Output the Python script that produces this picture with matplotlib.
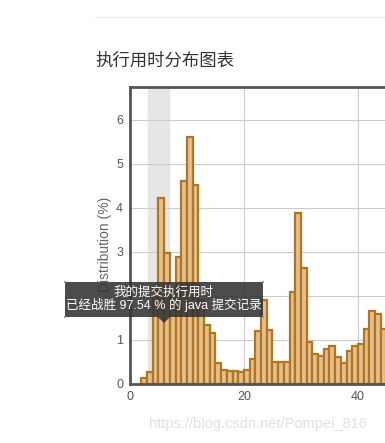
import numpy as np
import matplotlib
matplotlib.use("Agg")
import matplotlib.pyplot as plt
from matplotlib.patches import Rectangle, Polygon

plt.rcParams['font.family'] = ['Liberation Sans', 'Noto Sans CJK SC', 'DejaVu Sans']

# runtime bins (ms) and share of submissions (%)
bins = np.arange(2, 45)
dist = [0.13, 0.27, 2.0, 4.23, 2.98, 2.1, 2.88, 4.62, 5.62, 4.52,
        1.9, 1.34, 1.17, 0.48, 0.32, 0.3, 0.3, 0.28, 0.32, 0.56,
        1.21, 1.91, 1.23, 0.51, 0.51, 0.51, 2.08, 3.88, 2.63, 0.96,
        0.68, 0.64, 0.8, 0.87, 0.62, 0.48, 0.75, 0.87, 0.9, 1.26,
        1.66, 1.6, 1.24]
xticks = [0, 20, 40]
yticks = [0, 1, 2, 3, 4, 5, 6]
highlight = (3.1, 6.9)

W, H = 385, 443
fig = plt.figure(figsize=(W / 100, H / 100), dpi=100)

def px(x, y):
    return x / W, 1 - y / H

ax = fig.add_axes([130 / W, (H - 384) / H, (W - 130) / W, (384 - 87) / H])
ax.set_xlim(0, 44.74)
ax.set_ylim(0, 6.75)

ax.axvspan(*highlight, color='#e6e6e6', zorder=0)
ax.bar(bins, dist, width=1.0, align='edge', facecolor='#e2c092',
       edgecolor='#b5751c', linewidth=1.6, zorder=2)

ax.set_xticks(xticks)
ax.set_yticks(yticks)
ax.grid(True, color='#cccccc', linewidth=0.8, zorder=1)
ax.set_axisbelow(True)
ax.tick_params(length=0, colors='#555555', labelsize=9, pad=5)
for s in ['left', 'top', 'bottom']:
    ax.spines[s].set_color('#555555')
    ax.spines[s].set_linewidth(2)
ax.spines['right'].set_visible(False)
ax.set_ylabel('Distribution (%)', color='#666666', fontsize=10)
ax.yaxis.set_label_coords(-0.072, 0.47)

# title and top rule
fig.text(*px(95, 61), '执行用时分布图表', fontsize=12.5, color='#333333',
         va='center', ha='left', family=['Noto Sans CJK SC'])
fig.add_artist(plt.Line2D([95 / W, 1], [1 - 17 / H] * 2, color='#eeeeee',
                          linewidth=1))

# tooltip
x0, y0, x1, y1 = 65, 282, 263, 317
fig.add_artist(Rectangle(px(x0, y1), (x1 - x0) / W, (y1 - y0) / H,
                         transform=fig.transFigure, facecolor='#333333',
                         alpha=0.88, edgecolor='none', zorder=10))
fig.add_artist(Polygon([px(158, y1), px(170, y1), px(164, 323)],
                       closed=True, transform=fig.transFigure,
                       facecolor='#333333', alpha=0.88, edgecolor='none',
                       zorder=10))
for cx, cy in [(x0, y0), (x1, y0), (x0, y1), (x1, y1)]:
    fig.add_artist(Rectangle(px(cx - 1, cy + 1), 2 / W, 2 / H,
                             transform=fig.transFigure, facecolor='#999999',
                             edgecolor='none', zorder=11))
fig.text(*px(163, 293), '我的提交执行用时', fontsize=9, color='white',
         ha='center', va='center', zorder=12)
fig.text(*px(164, 305), '已经战胜 97.54 % 的 java 提交记录', fontsize=9,
         color='white', ha='center', va='center', zorder=12)

# watermark
fig.text(*px(258, 424), 'https://blog.csdn.net/Pompei_816', fontsize=10.5,
         color='#e0e0e0', ha='center', va='center')

fig.savefig('out.png', dpi=100)
